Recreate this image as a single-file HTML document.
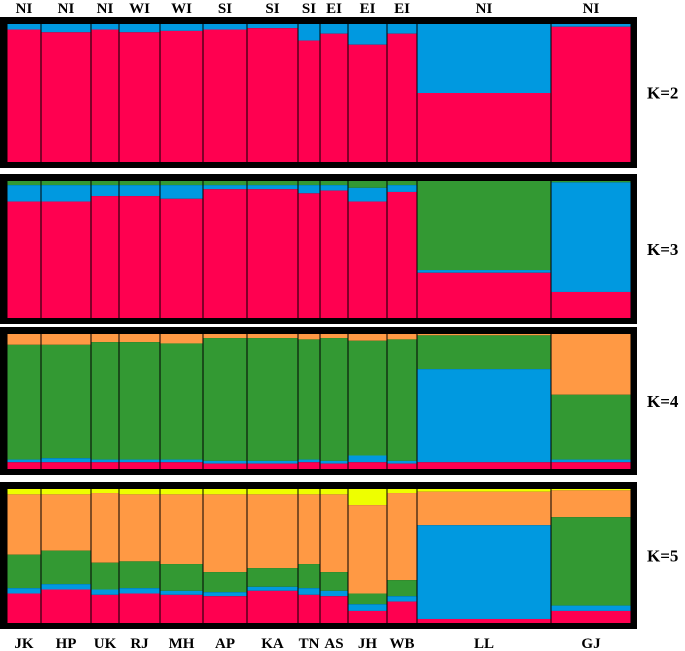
<!DOCTYPE html>
<html><head><meta charset="utf-8"><style>
body{margin:0;background:#fff;}
svg{display:block;font-family:"Liberation Serif",serif;font-weight:bold;}
</style></head><body>
<svg id="chart" width="685" height="651"></svg>
<script>
const groups=["JK","HP","UK","RJ","MH","AP","KA","TN","AS","JH","WB","LL","GJ"];
const regions=["NI","NI","NI","WI","WI","SI","SI","SI","EI","EI","EI","NI","NI"];
const bounds=[7,41,91,119,160,203,247,298,320,348,387,417,551,631];
const colors={red:"#ff0050",blue:"#0099e0",green:"#339933",orange:"#ff9944",yellow:"#eeff00"};
// K=2: [blue, red]
const k2Blue=[.04,.06,.04,.06,.05,.04,.03,.12,.07,.15,.07,.50,.02];
// K=3: [green, blue, red]
const k3Green=[.03,.03,.03,.03,.03,.03,.03,.03,.03,.05,.03,.65,.01];
const k3Blue=[.12,.12,.08,.08,.10,.03,.03,.06,.04,.10,.05,.02,.80];
// K=4: [orange, green, blue, red]
const k4Orange=[.08,.08,.06,.06,.07,.03,.03,.04,.03,.05,.04,.01,.45];
const k4Green=[.85,.84,.87,.87,.86,.91,.91,.89,.91,.85,.9,.25,.48];
const k4Blue=[.02,.03,.02,.02,.02,.02,.02,.02,.02,.05,.02,.69,.02];
// K=5: [yellow, orange, green, blue, red]
const k5Yellow=[.04,.04,.03,.04,.04,.04,.04,.04,.04,.12,.03,.02,.01];
const k5Orange=[.45,.42,.52,.50,.52,.58,.55,.52,.58,.66,.65,.25,.20];
const k5Green=[.25,.25,.20,.20,.20,.15,.14,.18,.14,.08,.12,.00,.66];
const k5Blue=[.04,.04,.04,.04,.03,.03,.03,.05,.04,.05,.04,.70,.04];
const kLabels=["K=2","K=3","K=4","K=5"];
const panels=[
 {top:17,bot:168,layers:[[k2Blue,"blue"]],rest:"red"},
 {top:174,bot:324,layers:[[k3Green,"green"],[k3Blue,"blue"]],rest:"red"},
 {top:327,bot:475,layers:[[k4Orange,"orange"],[k4Green,"green"],[k4Blue,"blue"]],rest:"red"},
 {top:482,bot:629,layers:[[k5Yellow,"yellow"],[k5Orange,"orange"],[k5Green,"green"],[k5Blue,"blue"]],rest:"red"}
];
const NS="http://www.w3.org/2000/svg";
const svg=document.getElementById("chart");
function mk(tag,attrs,parent){const e=document.createElementNS(NS,tag);for(const k in attrs)e.setAttribute(k,attrs[k]);(parent||svg).appendChild(e);return e;}
panels.forEach((p,pi)=>{
 const g=mk("g",{});
 
 
 const fr=mk("rect",{x:0,y:p.top,width:637,height:p.bot-p.top,fill:"#000"},g);
 
 
 const y0=p.top+7,y1=p.bot-6,h=y1-y0;
 groups.forEach((gr,i)=>{
  const x=bounds[i]+0.5,w=bounds[i+1]-bounds[i]-1;
  let y=y0;
  p.layers.forEach(([arr,c])=>{
   const hh=arr[i]*h;
   const r=mk("rect",{x:x,y:y,width:w,height:hh,fill:colors[c]},g);
   
   
   y+=hh;
  });
  const r=mk("rect",{x:x,y:y,width:w,height:y1-y,fill:colors[p.rest]},g);
  
  
 });
 const t=mk("text",{x:647,y:(p.top+p.bot)/2+6,"font-size":17,fill:"#000"},g);
 t.textContent=kLabels[pi];
 
 
});
groups.forEach((gr,i)=>{
 const cx=(bounds[i]+bounds[i+1])/2;
 const t=mk("text",{x:cx,y:13,"font-size":15,"text-anchor":"middle",fill:"#000"});
 t.textContent=regions[i];
 
 
 const b=mk("text",{x:cx,y:648,"font-size":15,"text-anchor":"middle",fill:"#000"});
 b.textContent=gr;
 
 
});
</script>
</body></html>
